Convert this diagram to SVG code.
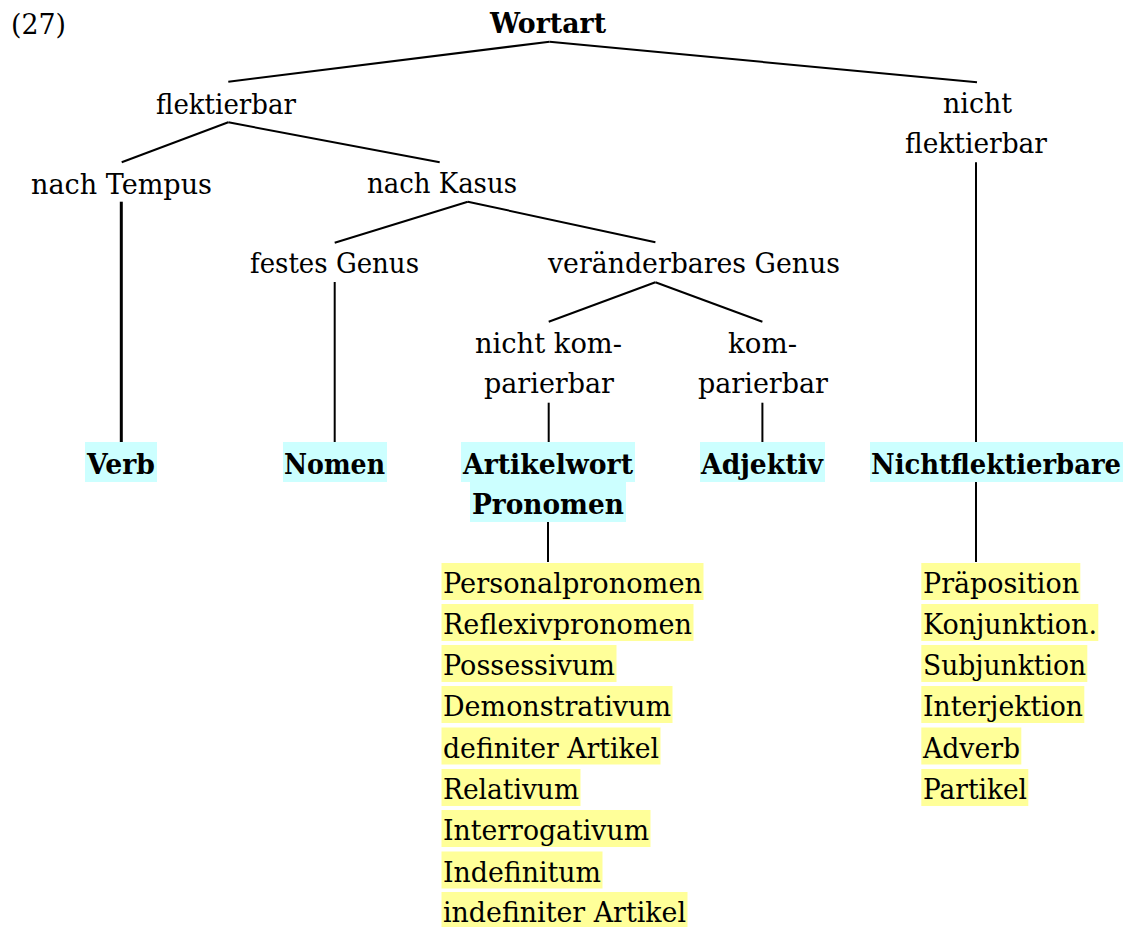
<svg xmlns="http://www.w3.org/2000/svg" width="1129" height="927" viewBox="0 0 1129 927">
<style>
text{font-family:"DejaVu Serif","Liberation Serif",serif;font-size:28px;fill:#000}
.b{font-weight:bold}
.cy{fill:#CCFFFF}
.ye{fill:#FFFF99}
#connectors line{stroke:#000;stroke-width:2}
</style>
<rect width="1129" height="927" fill="#fff"/>
<g id="label27"><text x="11" y="34" textLength="55" lengthAdjust="spacingAndGlyphs">(27)</text></g>
<g id="wortart"><text class="b" x="490" y="33" textLength="116" lengthAdjust="spacingAndGlyphs">Wortart</text></g>
<g id="flektierbar"><text x="156" y="114" textLength="140" lengthAdjust="spacingAndGlyphs">flektierbar</text></g>
<g id="nicht-flektierbar">
<text x="943" y="113" textLength="69" lengthAdjust="spacingAndGlyphs">nicht</text>
<text x="905" y="153" textLength="142" lengthAdjust="spacingAndGlyphs">flektierbar</text>
</g>
<g id="nach-tempus"><text x="31" y="194" textLength="181" lengthAdjust="spacingAndGlyphs">nach Tempus</text></g>
<g id="nach-kasus"><text x="367" y="193" textLength="150" lengthAdjust="spacingAndGlyphs">nach Kasus</text></g>
<g id="festes-genus"><text x="250" y="273" textLength="169" lengthAdjust="spacingAndGlyphs">festes Genus</text></g>
<g id="veraenderbares-genus"><text x="548" y="273" textLength="292" lengthAdjust="spacingAndGlyphs">veränderbares Genus</text></g>
<g id="nicht-komparierbar">
<text x="475" y="353" textLength="147" lengthAdjust="spacingAndGlyphs">nicht kom-</text>
<text x="484" y="393" textLength="130" lengthAdjust="spacingAndGlyphs">parierbar</text>
</g>
<g id="komparierbar">
<text x="728" y="353" textLength="69" lengthAdjust="spacingAndGlyphs">kom-</text>
<text x="698" y="393" textLength="130" lengthAdjust="spacingAndGlyphs">parierbar</text>
</g>
<g id="verb"><rect class="cy" x="85" y="442" width="72" height="40"/><text class="b" x="87" y="474" textLength="68" lengthAdjust="spacingAndGlyphs">Verb</text></g>
<g id="nomen"><rect class="cy" x="283" y="442" width="104" height="40"/><text class="b" x="284" y="474" textLength="101" lengthAdjust="spacingAndGlyphs">Nomen</text></g>
<g id="artikelwort-pronomen">
<rect class="cy" x="461" y="442" width="174" height="40"/>
<rect class="cy" x="470" y="482" width="156" height="40"/>
<text class="b" x="463" y="474" textLength="170" lengthAdjust="spacingAndGlyphs">Artikelwort</text>
<text class="b" x="472" y="514" textLength="152" lengthAdjust="spacingAndGlyphs">Pronomen</text>
</g>
<g id="adjektiv"><rect class="cy" x="700" y="442" width="125" height="40"/><text class="b" x="701" y="474" textLength="122" lengthAdjust="spacingAndGlyphs">Adjektiv</text></g>
<g id="nichtflektierbare"><rect class="cy" x="870" y="442" width="253" height="40"/><text class="b" x="871" y="474" textLength="250" lengthAdjust="spacingAndGlyphs">Nichtflektierbare</text></g>
<g id="pronomen-liste">
<rect class="ye" x="441.5" y="563" width="262" height="37"/>
<rect class="ye" x="441.5" y="604" width="252" height="37"/>
<rect class="ye" x="441.5" y="645" width="175" height="37"/>
<rect class="ye" x="441.5" y="686" width="231" height="37"/>
<rect class="ye" x="441.5" y="727.5" width="219" height="37"/>
<rect class="ye" x="441.5" y="769" width="139" height="37"/>
<rect class="ye" x="441.5" y="810" width="209" height="37"/>
<rect class="ye" x="441.5" y="851.5" width="161" height="37"/>
<rect class="ye" x="441.5" y="892" width="246" height="35"/>
<text x="443" y="593" textLength="259" lengthAdjust="spacingAndGlyphs">Personalpronomen</text>
<text x="443" y="634" textLength="249" lengthAdjust="spacingAndGlyphs">Reflexivpronomen</text>
<text x="443" y="675" textLength="172" lengthAdjust="spacingAndGlyphs">Possessivum</text>
<text x="443" y="716" textLength="228" lengthAdjust="spacingAndGlyphs">Demonstrativum</text>
<text x="443" y="757.5" textLength="216" lengthAdjust="spacingAndGlyphs">definiter Artikel</text>
<text x="443" y="799" textLength="136" lengthAdjust="spacingAndGlyphs">Relativum</text>
<text x="443" y="840" textLength="206" lengthAdjust="spacingAndGlyphs">Interrogativum</text>
<text x="443" y="881.5" textLength="158" lengthAdjust="spacingAndGlyphs">Indefinitum</text>
<text x="443" y="922" textLength="243" lengthAdjust="spacingAndGlyphs">indefiniter Artikel</text>
</g>
<g id="nichtflektierbare-liste">
<rect class="ye" x="921.3" y="563" width="159" height="37"/>
<rect class="ye" x="921.3" y="604" width="177" height="37"/>
<rect class="ye" x="921.3" y="645" width="166" height="37"/>
<rect class="ye" x="921.3" y="686" width="163" height="37"/>
<rect class="ye" x="921.3" y="727.5" width="100" height="37"/>
<rect class="ye" x="921.3" y="769" width="107" height="37"/>
<text x="923" y="593" textLength="156" lengthAdjust="spacingAndGlyphs">Präposition</text>
<text x="923" y="634" textLength="174" lengthAdjust="spacingAndGlyphs">Konjunktion.</text>
<text x="923" y="675" textLength="163" lengthAdjust="spacingAndGlyphs">Subjunktion</text>
<text x="923" y="716" textLength="160" lengthAdjust="spacingAndGlyphs">Interjektion</text>
<text x="923" y="757.5" textLength="97" lengthAdjust="spacingAndGlyphs">Adverb</text>
<text x="923" y="799" textLength="104" lengthAdjust="spacingAndGlyphs">Partikel</text>
</g>
<g id="connectors">
<line x1="549.5" y1="41.7" x2="228.3" y2="81.7"/>
<line x1="549.5" y1="41.7" x2="977" y2="82.3"/>
<line x1="228.3" y1="122.3" x2="121.7" y2="162.3"/>
<line x1="228.3" y1="122.3" x2="439.7" y2="162.3"/>
<line x1="121.3" y1="201.7" x2="121.3" y2="442" style="stroke-width:3"/>
<line x1="467.8" y1="201.7" x2="334.7" y2="242.7"/>
<line x1="467.8" y1="201.7" x2="655.4" y2="242.3"/>
<line x1="334.7" y1="282" x2="334.7" y2="442"/>
<line x1="655.4" y1="282.3" x2="548.7" y2="321.7"/>
<line x1="655.4" y1="282.3" x2="762.4" y2="321.7"/>
<line x1="548.7" y1="402.7" x2="548.7" y2="442"/>
<line x1="762.4" y1="402.7" x2="762.4" y2="442"/>
<line x1="976" y1="162.3" x2="976" y2="442"/>
<line x1="976" y1="482" x2="976" y2="562"/>
<line x1="548" y1="522" x2="548" y2="562"/>
</g>
</svg>
